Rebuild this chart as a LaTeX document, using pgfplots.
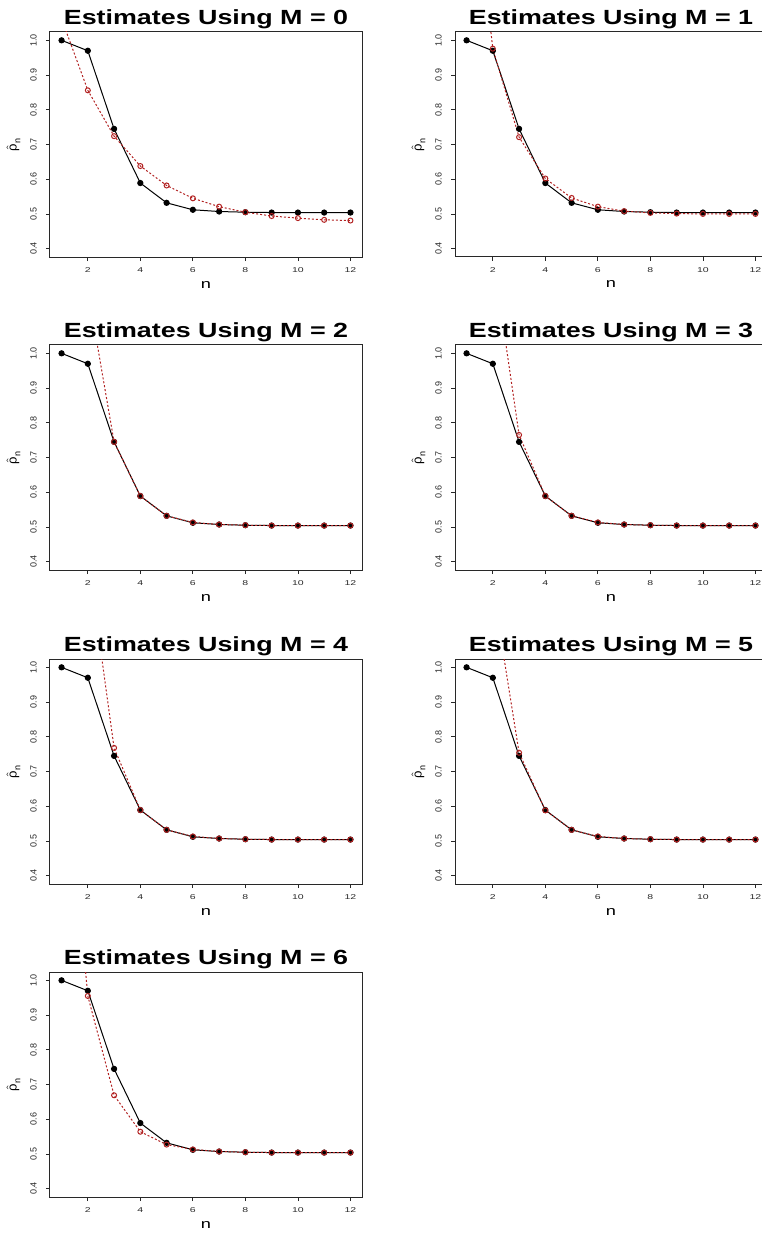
\documentclass[border=0pt]{standalone}
\usepackage{fontspec}
\setmainfont{Liberation Sans}
\usepackage{pgfplots}
\usepackage{pgfplotstable}
\pgfplotsset{compat=1.18}
\definecolor{rline}{RGB}{178,34,34}
\definecolor{axgray}{RGB}{40,40,40}

% black: the sequence itself, m0..m6: the estimates for M = 0..6
\pgfplotstableread{
n  b      m0     m1     m2     m3     m4     m5     m6
1  1.000  1.062  1.630  1.600  1.900  2.000  1.800  1.770
2  0.970  0.856  0.976  1.183  1.285  1.320  1.229  0.955
3  0.745  0.724  0.721  0.745  0.765  0.768  0.754  0.669
4  0.589  0.638  0.602  0.589  0.589  0.589  0.588  0.564
5  0.532  0.582  0.546  0.532  0.532  0.532  0.532  0.527
6  0.512  0.545  0.521  0.513  0.513  0.513  0.513  0.513
7  0.507  0.521  0.508  0.507  0.507  0.507  0.507  0.507
8  0.505  0.505  0.503  0.505  0.505  0.505  0.505  0.505
9  0.504  0.494  0.501  0.504  0.504  0.504  0.504  0.504
10 0.504  0.488  0.500  0.504  0.504  0.504  0.504  0.504
11 0.504  0.483  0.500  0.504  0.504  0.504  0.504  0.504
12 0.504  0.481  0.500  0.504  0.504  0.504  0.504  0.504
}\est

\pgfplotsset{
  panel/.style={
    scale only axis, width=156pt, height=112.5pt, anchor=north west,
    xmin=0.56, xmax=12.44, ymin=0.376, ymax=1.024,
    xtick={2,4,6,8,10,12}, ytick={0.4,0.5,0.6,0.7,0.8,0.9,1.0},
    tick pos=left,
    /pgf/number format/assume math mode=true,
    axis line style={line width=0.5pt, axgray},
    tick align=outside, major tick length=2pt,
    tick style={axgray, line width=0.4pt},
    xticklabel={\scalebox{1.5}[1]{\pgfmathprintnumber{\tick}}},
    yticklabel={\pgfmathprintnumber[fixed,fixed zerofill,precision=1]{\tick}},
    xticklabel style={font=\fontsize{3.5}{4}\selectfont, text=axgray,
      anchor=north, inner sep=0pt, yshift=-3pt},
    yticklabel style={font=\fontsize{4.5}{5}\selectfont, text=axgray,
      rotate=90, anchor=south, inner sep=0pt, yshift=4.4pt},
    every axis title shift=0pt,
    title style={font=\bfseries\fontsize{10.25}{12}\selectfont,
      at={(axis description cs:0.5,1)}, anchor=base, inner sep=0pt, yshift=3.75pt},
    xlabel={\scalebox{1.4}[1]{n}},
    xlabel style={font=\fontsize{6.5}{7}\selectfont,
      at={(axis description cs:0.5,0)}, anchor=base, inner sep=0pt, yshift=-15.5pt},
    ylabel={$\hat{\mbox{ρ}}_{\mbox{\fontsize{4.5}{5}\selectfont n}}$},
    ylabel style={font=\fontsize{6.5}{7}\selectfont,
      at={(axis description cs:0,0.5)}, anchor=center, inner sep=0pt, yshift=18.25pt},
  },
  blk/.style={black, line width=0.5pt, mark=*, mark size=1.3pt, mark options={solid}},
  est/.style={rline, line width=0.5pt, dash pattern=on 1pt off 1pt,
    mark=o, mark size=1.25pt, mark options={solid, line width=0.5pt}},
}

\newcommand\panel[3]{%
  \begin{axis}[panel, at={(#1,#2)}, title={\scalebox{1.31}[1]{Estimates Using M = #3}}]
    \addplot[blk] table[x=n, y=b] {\est};
    \addplot[est] table[x=n, y=m#3] {\est};
  \end{axis}}

\begin{document}
\begin{tikzpicture}
\panel{25pt}{-16pt}{0}
\panel{227.5pt}{-16pt}{1}
\panel{25pt}{-172.5pt}{2}
\panel{227.5pt}{-172.5pt}{3}
\panel{25pt}{-329.5pt}{4}
\panel{227.5pt}{-329.5pt}{5}
\panel{25pt}{-486pt}{6}
\pgfresetboundingbox
\useasboundingbox (0,0) rectangle (380.5pt,-617pt);
\end{tikzpicture}
\end{document}
